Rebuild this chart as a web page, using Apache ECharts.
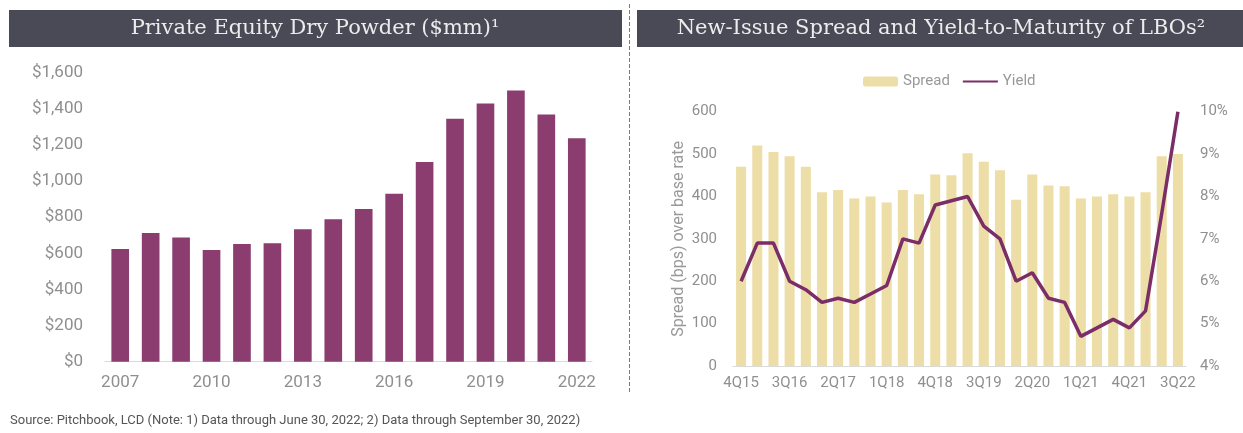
<!DOCTYPE html>
<html>
<head>
<meta charset="utf-8">
<script src="https://cdn.jsdelivr.net/npm/echarts@6.0.0/dist/echarts.min.js"></script>
<style>
  html, body { margin: 0; padding: 0; background: #fff; }
  #chart { width: 1243px; height: 433px; }
</style>
</head>
<body>
<div id="chart"></div>
<script>
// left panel: dry powder by year ($mm)
const years = ['2007', '2008', '2009', '2010', '2011', '2012', '2013', '2014',
  '2015', '2016', '2017', '2018', '2019', '2020', '2021', '2022'];
const dryPowder = [624, 713, 687, 618, 652, 656, 733, 789, 846, 930, 1105, 1345, 1429, 1501, 1369, 1237];

// right panel: quarterly spread (bps) and yield (%)
const quarters = ['4Q15',
  '1Q16', '2Q16', '3Q16', '4Q16', '1Q17', '2Q17', '3Q17', '4Q17',
  '1Q18', '2Q18', '3Q18', '4Q18', '1Q19', '2Q19', '3Q19', '4Q19',
  '1Q20', '2Q20', '3Q20', '4Q20', '1Q21', '2Q21', '3Q21', '4Q21',
  '1Q22', '2Q22', '3Q22'];
const spread = [470, 520, 505, 495, 470, 410, 415, 395, 400, 386, 415, 405, 452, 450,
  502, 482, 462, 392, 452, 426, 424, 395, 400, 405, 400, 410, 495, 500];
const yieldPct = [6.0, 6.9, 6.9, 6.0, 5.8, 5.5, 5.6, 5.5, 5.7, 5.9, 7.0, 6.9, 7.8, 7.9,
  8.0, 7.3, 7.0, 6.0, 6.2, 5.6, 5.5, 4.7, 4.9, 5.1, 4.9, 5.3, 7.6, 10.0];

const leftTitle = 'Private Equity Dry Powder ($mm)¹';
const rightTitle = 'New-Issue Spread and Yield-to-Maturity of LBOs²';
const footnote = 'Source: Pitchbook, LCD (Note: 1) Data through June 30, 2022; 2) Data through September 30, 2022)';

const chart = echarts.init(document.getElementById('chart'));
const labelGray = '#8f8f8f';
const axisGray = '#dadada';

const option = {
  animation: false,
  textStyle: { fontFamily: 'Roboto' },
  graphic: [
    { type: 'rect', shape: { x: 9, y: 10, width: 613, height: 37 }, style: { fill: '#4a4956' } },
    { type: 'rect', shape: { x: 637, y: 10, width: 606, height: 37 }, style: { fill: '#4a4956' } },
    {
      type: 'line', shape: { x1: 629.5, y1: 4, x2: 629.5, y2: 394 },
      style: { stroke: '#7a7a7a', lineWidth: 1, lineDash: [4, 2] }
    },
    {
      type: 'text', x: 315, y: 29,
      style: { text: leftTitle, font: '21px "DejaVu Serif"', fill: '#ececec', align: 'center', verticalAlign: 'middle' }
    },
    {
      type: 'text', x: 941, y: 29,
      style: { text: rightTitle, font: '21px "DejaVu Serif"', fill: '#ececec', align: 'center', verticalAlign: 'middle' }
    },
    {
      type: 'text', x: 10, y: 421,
      style: { text: footnote, font: '13px Roboto', fill: '#555555', verticalAlign: 'middle' }
    }
  ],
  legend: {
    data: ['Spread', { name: 'Yield', itemStyle: { opacity: 0 } }],
    left: 858,
    top: 69,
    itemWidth: 35,
    itemHeight: 10,
    itemGap: 12,
    textStyle: { fontSize: 15, color: '#999999' }
  },
  grid: [
    { left: 105, right: 651, top: 72.7, bottom: 71.3 },
    { left: 733, right: 57, top: 111.7, bottom: 67 }
  ],
  xAxis: [
    {
      gridIndex: 0,
      type: 'category',
      data: years,
      axisTick: { show: false },
      axisLine: { lineStyle: { color: axisGray } },
      axisLabel: { interval: 2, color: labelGray, fontSize: 17, margin: 13 }
    },
    {
      gridIndex: 1,
      type: 'category',
      data: quarters,
      axisTick: { show: false },
      axisLine: { lineStyle: { color: axisGray } },
      axisLabel: { interval: 2, color: labelGray, fontSize: 15, margin: 10 }
    }
  ],
  yAxis: [
    {
      gridIndex: 0,
      type: 'value',
      min: 0,
      max: 1600,
      interval: 200,
      splitLine: { show: false },
      axisLabel: {
        color: labelGray, fontSize: 17, margin: 22,
        formatter: v => '$' + v.toLocaleString('en-US')
      }
    },
    {
      gridIndex: 1,
      type: 'value',
      min: 0,
      max: 600,
      interval: 100,
      name: 'Spread (bps) over base rate',
      nameLocation: 'middle',
      nameGap: 46,
      nameTextStyle: { fontSize: 16, color: '#999999' },
      splitLine: { show: false },
      axisLabel: { color: labelGray, fontSize: 15, margin: 16 }
    },
    {
      gridIndex: 1,
      type: 'value',
      position: 'right',
      min: 4,
      max: 10,
      interval: 1,
      splitLine: { show: false },
      axisLabel: { color: labelGray, fontSize: 15, margin: 14, formatter: '{value}%' }
    }
  ],
  series: [
    {
      type: 'bar',
      xAxisIndex: 0,
      yAxisIndex: 0,
      data: dryPowder,
      barCategoryGap: '42%',
      itemStyle: { color: '#8b3d6f' }
    },
    {
      name: 'Spread',
      type: 'bar',
      xAxisIndex: 1,
      yAxisIndex: 1,
      data: spread,
      barCategoryGap: '38%',
      itemStyle: { color: '#ecdea6' }
    },
    {
      name: 'Yield',
      type: 'line',
      xAxisIndex: 1,
      yAxisIndex: 2,
      data: yieldPct,
      symbol: 'none',
      lineStyle: { width: 3.5, color: '#7b2d68' },
      itemStyle: { color: '#7b2d68' }
    }
  ]
};

chart.setOption(option);
</script>
</body>
</html>
